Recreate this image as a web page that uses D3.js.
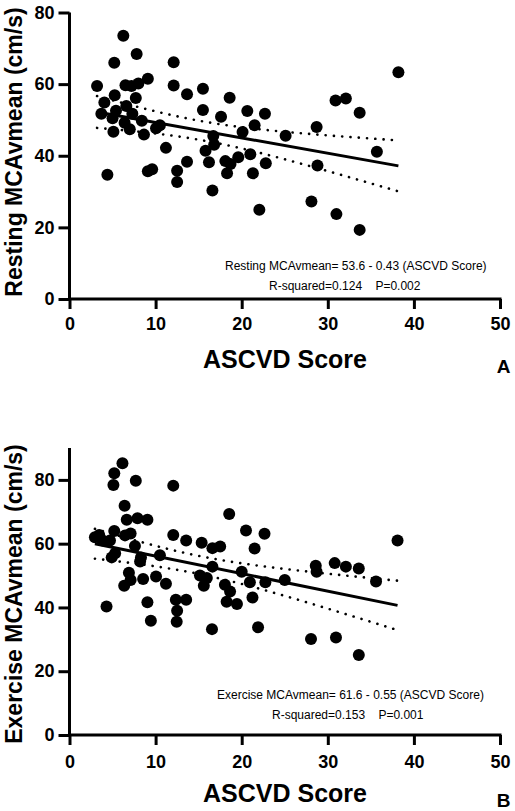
<!DOCTYPE html>
<html>
<head>
<meta charset="utf-8">
<script src="https://cdn.jsdelivr.net/npm/d3@7"></script>
<style>
  html, body { margin: 0; padding: 0; background: #fff; }
  svg { display: block; }
  text { font-family: "Liberation Sans", Arial, Helvetica, sans-serif; fill: #000; }
</style>
</head>
<body>
<svg id="chart" width="515" height="811"></svg>
<script>
// ---------- DATA ----------
const xTicks = [0, 10, 20, 30, 40, 50];
const yTicks = [0, 20, 40, 60, 80];
const xTitle = "ASCVD Score";

// Panel A: Resting
const restTitle = "Resting MCAvmean (cm/s)";
const restX = [3.2,6.25,5.2,7.8,4.05,5.25,6.5,7.2,8.0,9.1,7.7,3.7,5.4,5.0,6.6,7.3,6.4,8.4,5.1,7.0,8.65,10.05,10.5,4.4,11.2,9.1,9.6,12.1,12.1,13.65,15.5,15.5,17.6,18.6,20.65,22.7,21.5,20.1,16.7,16.8,15.8,25.1,12.5,12.5,13.65,16.2,16.6,18.1,18.7,19.6,18.3,21.0,21.3,22.8,38.2,30.9,32.1,33.7,28.7,35.7,28.8,28.1,22.05,31.0,33.7];
const restY = [59.5,73.5,66,68.4,54.9,56.9,59.7,59.5,60.2,61.5,56.1,51.7,52.6,50.5,53.9,51.7,49.2,49.8,46.7,47.4,45.9,47.7,48.5,34.7,42.2,35.7,36.2,66.1,59.6,57.2,58.7,52.8,50.9,56.2,52.5,51.7,48.5,46.6,45.5,43.1,41.4,45.6,35.8,32.7,38.3,38.2,30.3,38.5,37.7,39.6,35.1,40.4,35.1,37.9,63.3,55.4,56.0,52.0,48.0,41.1,37.3,27.2,24.9,23.7,19.3];
const restFit = [53.6, -0.43];
const restEq = "Resting MCAvmean= 53.6 - 0.43 (ASCVD Score)";
const restStats = "R-squared=0.124    P=0.002";
const restLetter = "A";

// Panel B: Exercise
const exerTitle = "Exercise MCAvmean (cm/s)";
const exerX = [6.15,5.2,5.1,7.7,12.05,6.4,6.65,7.9,9.05,18.55,2.95,3.45,3.85,5.2,6.45,7.1,4.7,7.6,5.3,4.9,8.3,8.2,10.5,6.9,7.1,8.55,6.35,10.05,11.2,4.3,9.05,12.05,13.55,15.35,16.6,17.5,20.5,22.65,21.5,16.6,20.0,20.95,22.75,15.15,15.95,15.6,18.05,18.65,18.25,19.45,21.25,12.35,13.55,12.5,25.0,9.45,12.45,16.55,21.9,38.1,28.6,28.7,30.8,32.1,33.6,35.6,28.05,30.95,33.6];
const exerY = [85.2,82.1,78.4,79.7,78.2,71.9,67.5,68,67.5,69.3,62,62.7,61,64,62.6,63.2,61,59.3,57,55.7,55.7,54.4,56.4,50.9,48.6,48.9,46.8,49.7,47.4,40.3,41.6,62.7,61,60.3,58.6,59.1,64.1,63.1,58.5,52.8,51.2,47.9,47.9,50,49.2,46.8,47.1,45,41.8,41.1,43.1,42.4,42.4,39,48.6,35.8,35.5,33.2,33.8,61,53.1,51.2,53.9,52.8,52.2,48.1,30.1,30.6,25.1];
const exerFit = [61.6, -0.55];
const exerEq = "Exercise MCAvmean= 61.6 - 0.55 (ASCVD Score)";
const exerStats = "R-squared=0.153    P=0.001";
const exerLetter = "B";

// ---------- DRAW ----------
const svg = d3.select("#chart");
const FONT = '"Liberation Sans", Arial, Helvetica, sans-serif';

function drawPanel(cfg) {
  const g = svg.append("g");
  const x = d3.scaleLinear().domain([0, 50]).range([69.5, 500]);
  const y = d3.scaleLinear().domain([0, cfg.yMax]).range([cfg.bottom, cfg.top]);
  const pts = cfg.xs.map((v, i) => ({ x: v, y: cfg.ys[i] }));

  // regression + 95% CI band from data
  const n = pts.length;
  const xbar = d3.mean(pts, d => d.x);
  const sxx = d3.sum(pts, d => (d.x - xbar) ** 2);
  const [b0, b1] = cfg.fit;
  const sse = d3.sum(pts, d => (d.y - (b0 + b1 * d.x)) ** 2);
  const s = Math.sqrt(sse / (n - 2));
  const tcrit = 1.997;
  const [xmin, xmax] = d3.extent(pts, d => d.x);
  const xsCurve = d3.range(0, 101).map(i => xmin + (xmax - xmin) * i / 100);
  const half = xv => tcrit * s * Math.sqrt(1 / n + (xv - xbar) ** 2 / sxx);

  // points
  g.append("g").selectAll("circle").data(pts).join("circle")
    .attr("cx", d => x(d.x)).attr("cy", d => y(d.y)).attr("r", 6).attr("fill", "#000");

  const line = d3.line().x(d => x(d[0])).y(d => y(d[1]));
  g.append("path")
    .attr("d", line([[xmin, b0 + b1 * xmin], [xmax, b0 + b1 * xmax]]))
    .attr("stroke", "#000").attr("stroke-width", 3).attr("fill", "none");
  [1, -1].forEach(sign => {
    g.append("path")
      .attr("d", line(xsCurve.map(xv => [xv, b0 + b1 * xv + sign * half(xv)])))
      .attr("stroke", "#000").attr("stroke-width", 2.6).attr("fill", "none")
      .attr("stroke-linecap", "round").attr("stroke-dasharray", "0.1 8.2");
  });

  // axes
  const xAxis = g.append("g").attr("transform", `translate(0,${cfg.bottom})`)
    .call(d3.axisBottom(x).tickValues(xTicks).tickSize(10).tickSizeOuter(0).tickPadding(cfg.xPad));
  const yAxis = g.append("g").attr("transform", `translate(69.5,0)`)
    .call(d3.axisLeft(y).tickValues(yTicks).tickSize(11).tickSizeOuter(0).tickPadding(4));
  [xAxis, yAxis].forEach(a => {
    a.select(".domain").attr("stroke", "#000").attr("stroke-width", 3);
    a.selectAll(".tick line").attr("stroke", "#000").attr("stroke-width", 3);
    a.selectAll(".tick text").attr("font-family", FONT).attr("font-size", 18)
      .attr("font-weight", "bold").attr("fill", "#000");
  });
  xAxis.select(".domain").attr("d", `M68,0H501.5`);
  yAxis.select(".domain").attr("d", `M0,${cfg.top}V${cfg.bottom + 1.5}`);

  // titles
  g.append("text").attr("x", 285).attr("y", cfg.xTitleY).attr("text-anchor", "middle")
    .attr("font-size", 25).attr("font-weight", "bold").text(xTitle);
  g.append("text").attr("transform", `translate(22,${cfg.yTitleC}) rotate(-90)`)
    .attr("text-anchor", "middle").attr("font-size", 23).attr("font-weight", "bold").text(cfg.title);
  g.append("text").attr("x", 503.5).attr("y", cfg.letterY).attr("text-anchor", "middle")
    .attr("font-size", 19).attr("font-weight", "bold").text(cfg.letter);

  // annotation
  g.append("text").attr("x", cfg.eqX).attr("y", cfg.eqY).attr("font-size", 12).text(cfg.eq);
  g.append("text").attr("x", cfg.stX).attr("y", cfg.eqY + 20).attr("font-size", 12)
    .attr("xml:space", "preserve").style("white-space", "pre").text(cfg.stats);
}

drawPanel({
  xs: restX, ys: restY, fit: restFit, yMax: 80, top: 12.5, bottom: 299,
  title: restTitle, eq: restEq, stats: restStats, letter: restLetter,
  xPad: 8, xTitleY: 368, yTitleC: 152, letterY: 373, eqX: 225, eqY: 270, stX: 269
});
drawPanel({
  xs: exerX, ys: exerY, fit: exerFit, yMax: 90, top: 448, bottom: 735,
  title: exerTitle, eq: exerEq, stats: exerStats, letter: exerLetter,
  xPad: 10, xTitleY: 802, yTitleC: 594, letterY: 807, eqX: 217, eqY: 699, stX: 272
});
</script>
</body>
</html>
